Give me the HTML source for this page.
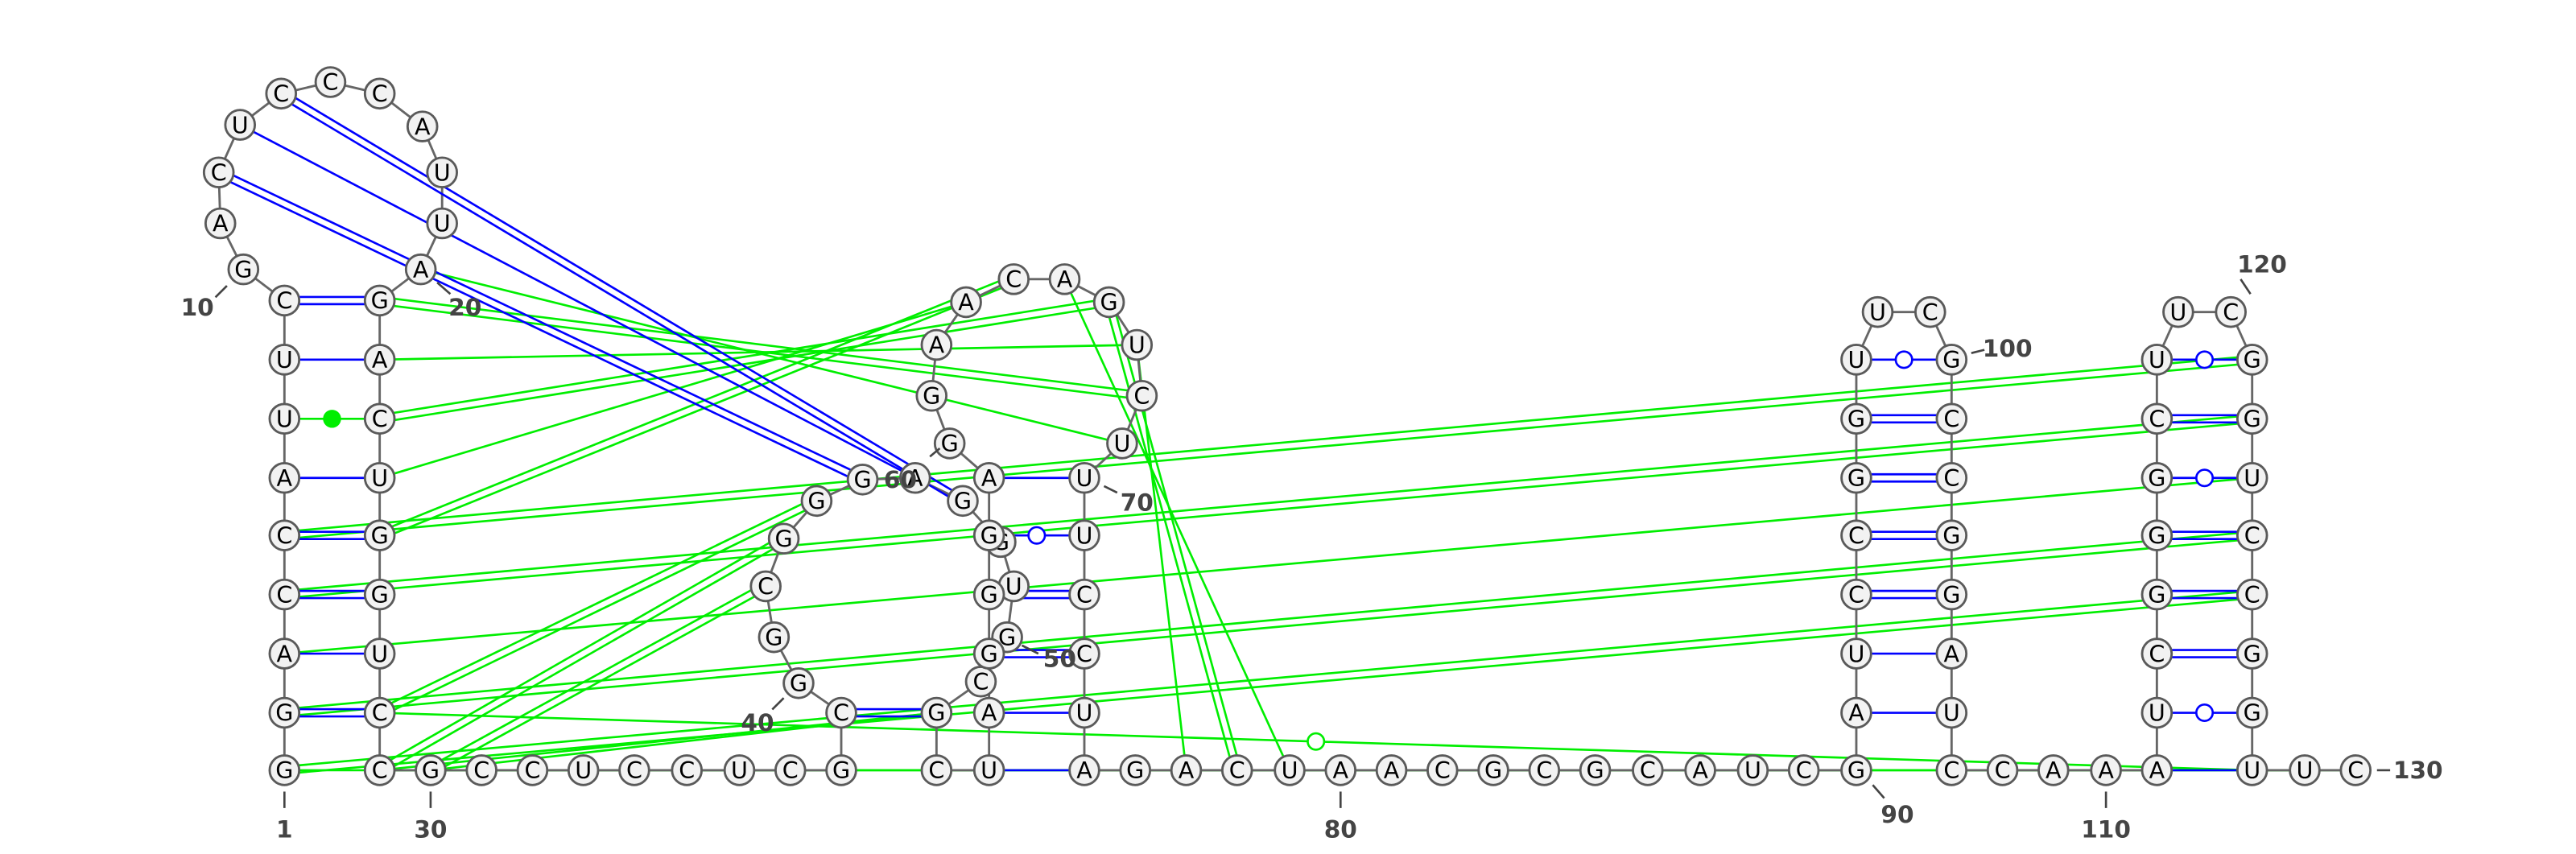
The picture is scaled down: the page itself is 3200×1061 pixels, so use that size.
<!DOCTYPE html>
<html><head><meta charset="utf-8"><style>
html,body{margin:0;padding:0;background:#fff;}
svg{display:block;}
</style></head><body>
<svg id="rna" width="3200" height="1061" viewBox="0 0 1568 520" xmlns="http://www.w3.org/2000/svg">
<g id="pairs-green"></g>
<g id="backbone"></g>
<g id="pairs-blue"></g>
<g id="nucs"></g>
<g id="labels"></g>
</svg>
<script>
const seq = "GGACCAUUCG"+"ACUCCCAUUA"+"GACUGGUCCG"+"CCUCCUCGCG"+"GCGGGAGGUG"+"CGCUAGGGAG"+"GAACAGUCUU"+"UCCUAGACUA"+"ACGCGCAUCG"+"AUCCGGUUCG"+"CCGGAUCCAA"+"AUCGGGCUUC"+"GGUCCGGUUC";
const posX = [null,
173,173,173,173,173,173,173,173,173,148,134,133,146,171,201,231,257,269,269,256,
231,231,231,231,231,231,231,231,231,262,293,324,355,386,418,450,481,512,512,486,
471,466,477,497,525,557,586,609,617,613,597,570,570,602,602,602,602,602,602,578,
567,570,588,617,648,675,692,695,683,660,660,660,660,660,660,691,722,753,785,816,
847,878,909,940,971,1003,1035,1067,1098,1130,1130,1130,1130,1130,1130,1130,1130,1143,1175,1188,
1188,1188,1188,1188,1188,1188,1188,1219,1250,1282,1313,1313,1313,1313,1313,1313,1313,1313,1326,1358,
1371,1371,1371,1371,1371,1371,1371,1371,1403,1434];
const posY = [null,
469,434,398,362,326,291,255,219,183,164,136,105,76,57,50,57,77,105,136,164,
183,219,255,291,326,362,398,434,469,469,469,469,469,469,469,469,469,469,434,416,
388,357,328,305,292,291,305,330,357,388,415,434,469,469,434,398,362,326,291,270,
241,210,184,170,170,184,210,241,270,291,326,362,398,434,469,469,469,469,469,469,
469,469,469,469,469,469,469,469,469,469,434,398,362,326,291,255,219,190,190,219,
255,291,326,362,398,434,469,469,469,469,469,434,398,362,326,291,255,219,190,190,
219,255,291,326,362,398,434,469,469,469];
const bluePairs = [
[9,21,2],[8,22,1],[6,24,1],[5,25,2],[4,26,2],[3,27,1],[2,28,2],
[12,45,2],[13,46,1],[14,47,2],
[39,52,2],[59,70,1],[58,71,0],[57,72,2],[56,73,2],[55,74,1],[54,75,1],
[97,100,0],[96,101,2],[95,102,2],[94,103,2],[93,104,2],[92,105,1],[91,106,1],
[118,121,0],[117,122,2],[116,123,0],[115,124,2],[114,125,2],[113,126,2],[112,127,0],[111,128,1]
];
const greenPairs = [
[7,23,3],
[21,68,2],[20,69,1],[22,67,1],[23,66,2],[24,63,1],[25,64,2],
[5,121,2],[4,122,2],[3,123,1],[2,124,2],[1,125,2],[28,128,0],
[28,44,2],[29,43,2],[30,42,2],[29,52,1],[30,52,1],
[65,79,1],[66,78,2],[67,77,1],[1,129,1],[29,130,1]
];
const labelNums = [1,10,20,30,40,50,60,70,80,90,100,110,120,130];
const labelOff = {1:[0,36,0,13,0,23],10:[-28,23,-17,17,-10,10],20:[27,23,10,8,18,15],30:[0,36,0,13,0,23],
40:[-25,24,-16,16,-9,9],50:[32,13,9,5,19,10],60:[-30,22,-12,8,-6,3],70:[32,15,12,5,20,9],80:[0,36,0,13,0,23],
90:[25,27,10,9,17,17],100:[34,-7,12,-4,20,-6],110:[0,36,0,13,0,23],120:[19,-29,12,-11,6,-20],130:[38,0,13,0,21,0]};

const NS="http://www.w3.org/2000/svg";
function mk(tag, attrs, parent){const e=document.createElementNS(NS,tag);for(const k in attrs)e.setAttribute(k,attrs[k]);parent.appendChild(e);return e;}
const gG=document.getElementById('pairs-green'), gB=document.getElementById('backbone'), gP=document.getElementById('pairs-blue'), gN=document.getElementById('nucs'), gL=document.getElementById('labels');

function drawPair(p, color, parent, kind){
  const [i,j,t]=p; const x1=posX[i],y1=posY[i],x2=posX[j],y2=posY[j];
  const dx=x2-x1, dy=y2-y1, L=Math.hypot(dx,dy)||1; const nx=-dy/L, ny=dx/L;
  const g=mk('g',{},parent);
  
  
  if(t===2){
    [-2.2,2.2].forEach(o=>mk('line',{x1:x1+nx*o,y1:y1+ny*o,x2:x2+nx*o,y2:y2+ny*o,stroke:color,'stroke-width':1.3},g));
  } else {
    mk('line',{x1,y1,x2,y2,stroke:color,'stroke-width':1.3},g);
    if(t===0) mk('circle',{cx:(x1+x2)/2,cy:(y1+y2)/2,r:5,fill:'#fff',stroke:color,'stroke-width':1.3},g);
    if(t===3) mk('circle',{cx:(x1+x2)/2,cy:(y1+y2)/2,r:5,fill:color,stroke:color,'stroke-width':1},g);
  }
}
greenPairs.forEach(p=>drawPair(p,'#00ee00',gG,'alt-pair'));
for(let i=1;i<130;i++){
  const l=mk('line',{x1:posX[i],y1:posY[i],x2:posX[i+1],y2:posY[i+1],stroke:'#666','stroke-width':1.4},gB);
  
  
}
bluePairs.forEach(p=>drawPair(p,'#0000ff',gP,'pair'));
for(let i=1;i<=130;i++){
  const g=mk('g',{},gN);
  
  
  mk('circle',{cx:posX[i],cy:posY[i],r:9,fill:'#f2f2f2',stroke:'#5a5a5a','stroke-width':1.4},g);
  const t=mk('text',{x:posX[i],y:posY[i]+5,'text-anchor':'middle','font-family':'"DejaVu Sans","Liberation Sans",sans-serif','font-size':14,fill:'#000'},g);
  t.textContent=seq[i-1];
}
labelNums.forEach(n=>{
  const o=labelOff[n]; const x=posX[n], y=posY[n];
  const g=mk('g',{},gL);
  
  
  mk('line',{x1:x+o[2],y1:y+o[3],x2:x+o[4],y2:y+o[5],stroke:'#444','stroke-width':1.3},g);
  const t=mk('text',{x:x+o[0],y:y+o[1]+5,'text-anchor':'middle','font-family':'"DejaVu Sans","Liberation Sans",sans-serif','font-size':14.5,'font-weight':'bold',fill:'#444'},g);
  t.textContent=n;
});
</script>
</body></html>
